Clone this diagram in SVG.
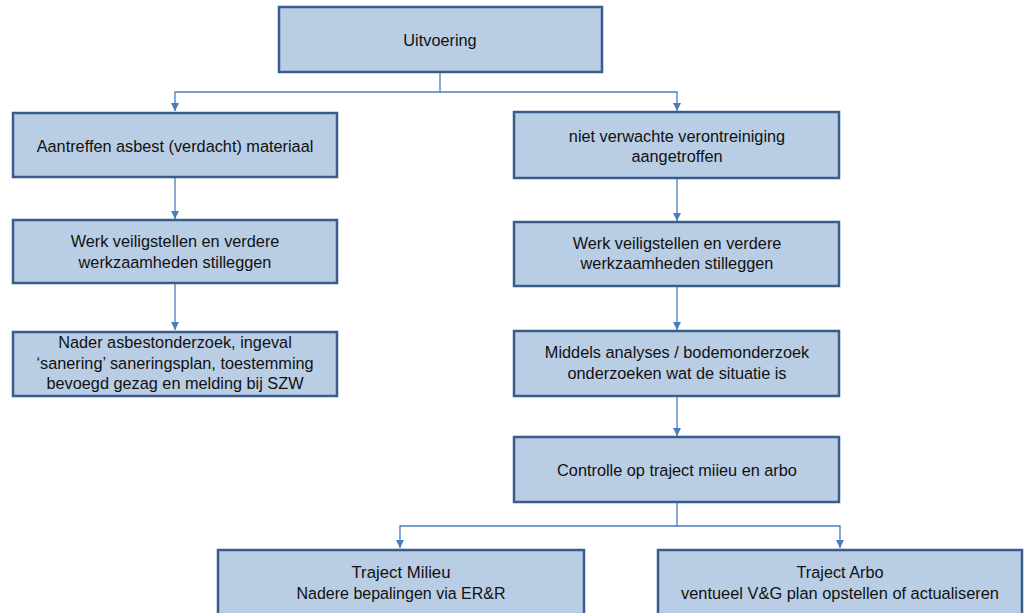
<svg xmlns="http://www.w3.org/2000/svg" width="1024" height="613" viewBox="0 0 1024 613">
<style>
.box{fill:#b9cde5;stroke:#385d8a;stroke-width:2.5}
.t{font-family:"Liberation Sans",Arial,sans-serif;font-size:16.3px;fill:#111;text-anchor:middle}
.c{fill:none;stroke:#4a7ebb;stroke-width:1.3}
</style>
<defs>
<marker id="ah" viewBox="0 0 10 10" refX="10" refY="5" markerWidth="8" markerHeight="8" markerUnits="userSpaceOnUse" orient="auto">
<path d="M0,0 L10,5 L0,10 z" fill="#4a7ebb"/>
</marker>
</defs>
<rect width="1024" height="613" fill="#ffffff"/>
<g id="connectors">
<path class="c" d="M440,72 V92 H175 V111" marker-end="url(#ah)"/>
<path class="c" d="M440,92 H677 V111" marker-end="url(#ah)"/>
<path class="c" d="M175,178 V219" marker-end="url(#ah)"/>
<path class="c" d="M175,284 V330" marker-end="url(#ah)"/>
<path class="c" d="M677,178 V221" marker-end="url(#ah)"/>
<path class="c" d="M677,286 V330" marker-end="url(#ah)"/>
<path class="c" d="M677,396 V436" marker-end="url(#ah)"/>
<path class="c" d="M677,502 V526 H400 V548" marker-end="url(#ah)"/>
<path class="c" d="M677,526 H840 V548" marker-end="url(#ah)"/>
</g>
<g id="uitvoering">
<rect class="box" x="279" y="7" width="323" height="65"/>
<text class="t" x="440" y="46">Uitvoering</text>
</g>
<g id="asbest">
<rect class="box" x="13" y="113" width="324" height="64"/>
<text class="t" x="175" y="152">Aantreffen asbest (verdacht) materiaal</text>
</g>
<g id="veilig-links">
<rect class="box" x="13" y="220" width="324" height="63"/>
<text class="t" x="175" y="247">Werk veiligstellen en verdere</text>
<text class="t" x="175" y="268">werkzaamheden stilleggen</text>
</g>
<g id="nader-asbest">
<rect class="box" x="13" y="332" width="324" height="64"/>
<text class="t" x="175" y="348">Nader asbestonderzoek,  ingeval</text>
<text class="t" x="175" y="369">‘sanering’ saneringsplan, toestemming</text>
<text class="t" x="175" y="389">bevoegd gezag en melding bij SZW</text>
</g>
<g id="verontreiniging">
<rect class="box" x="514" y="112" width="325" height="66"/>
<text class="t" x="677" y="142">niet verwachte verontreiniging</text>
<text class="t" x="677" y="162">aangetroffen</text>
</g>
<g id="veilig-rechts">
<rect class="box" x="514" y="222" width="325" height="64"/>
<text class="t" x="677" y="249">Werk veiligstellen en verdere</text>
<text class="t" x="677" y="269">werkzaamheden stilleggen</text>
</g>
<g id="analyses">
<rect class="box" x="514" y="331" width="325" height="65"/>
<text class="t" x="677" y="358">Middels analyses / bodemonderzoek</text>
<text class="t" x="677" y="379">onderzoeken  wat de situatie is</text>
</g>
<g id="controle">
<rect class="box" x="514" y="437" width="325" height="65"/>
<text class="t" x="677" y="476">Controlle op traject miieu en arbo</text>
</g>
<g id="milieu">
<rect class="box" x="218" y="550" width="366" height="90"/>
<text class="t" x="401" y="578" textLength="99" lengthAdjust="spacingAndGlyphs">Traject Milieu</text>
<text class="t" x="401" y="599" textLength="209" lengthAdjust="spacingAndGlyphs">Nadere bepalingen via ER&amp;R</text>
</g>
<g id="arbo">
<rect class="box" x="658" y="550" width="364" height="90"/>
<text class="t" x="840" y="578" textLength="87" lengthAdjust="spacingAndGlyphs">Traject Arbo</text>
<text class="t" x="840" y="599" textLength="318" lengthAdjust="spacingAndGlyphs">ventueel V&amp;G plan opstellen of actualiseren</text>
</g>
</svg>
